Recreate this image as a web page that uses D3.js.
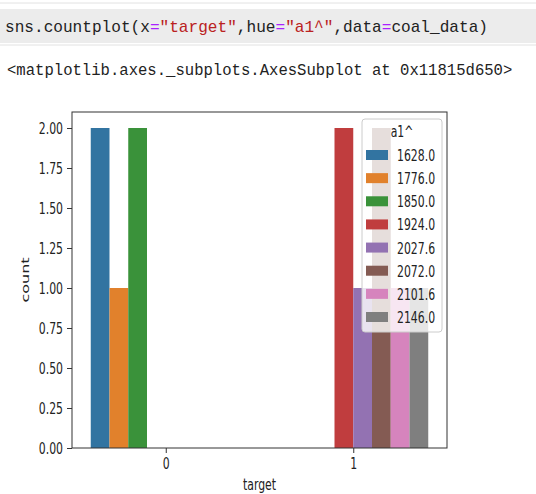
<!DOCTYPE html>
<html><head><meta charset="utf-8">
<script src="https://cdn.jsdelivr.net/npm/d3@7"></script>
<style>body{margin:0;background:#fff}svg{display:block}</style>
</head><body>
<svg id="c" width="536" height="494"></svg>
<script>
const categories = ["0", "1"];
const hues = ["1628.0","1776.0","1850.0","1924.0","2027.6","2072.0","2101.6","2146.0"];
const counts0 = [2, 1, 2, 0, 0, 0, 0, 0];
const counts1 = [0, 0, 0, 2, 1, 2, 1, 1];
const yTicks = [0, 0.25, 0.5, 0.75, 1.0, 1.25, 1.5, 1.75, 2.0];
const colors = ["#3274a1","#e1812c","#3a923a","#c03d3e","#9372b2","#845b53","#d684bd","#7f7f7f"];

const SX = 0.68;
const svg = d3.select("#c");
const FONT = "DejaVu Sans";
const MONO = "Liberation Mono";

// code cell
svg.append("rect").attr("x",0).attr("y",9).attr("width",536).attr("height",34).attr("fill","#ececec");
svg.append("line").attr("x1",0).attr("x2",536).attr("y1",3).attr("y2",3).attr("stroke","#e2e2e2");
svg.append("line").attr("x1",0).attr("x2",536).attr("y1",45).attr("y2",45).attr("stroke","#e2e2e2");
const code = svg.append("text").attr("x",5).attr("y",32).attr("font-family",MONO)
  .attr("font-size",16.1).attr("fill","#222");
const parts = [["sns.countplot(x","#222"],["=","#aa22ff"],["\"target\"","#ba2121"],[",hue","#222"],["=","#aa22ff"],
  ["\"a1^\"","#ba2121"],[",data","#222"],["=","#aa22ff"],["coal_data)","#222"]];
parts.forEach(p => code.append("tspan").attr("fill",p[1]).text(p[0]));
svg.append("text").attr("x",7).attr("y",75).attr("font-family",MONO).attr("font-size",15.6).attr("fill","#222")
  .text("<matplotlib.axes._subplots.AxesSubplot at 0x11815d650>");

// chart
const L = 72, R = 447, T = 112, B = 448;
const x = d3.scaleLinear().domain([-0.5, 1.5]).range([L, R]);
const y = d3.scaleLinear().domain([0, 2.1]).range([B, T]);
const bw = 0.8 / hues.length;

const data = [];
[counts0, counts1].forEach((arr, ci) => arr.forEach((v, hi) => data.push({ci, hi, v})));
svg.append("g").selectAll("rect").data(data).join("rect")
  .attr("x", d => x(d.ci - 0.4 + d.hi * bw))
  .attr("width", d => x(bw) - x(0))
  .attr("y", d => y(d.v))
  .attr("height", d => y(0) - y(d.v))
  .attr("fill", d => colors[d.hi]);

// axes
const yAxis = svg.append("g").attr("transform",`translate(${L},0)`)
  .call(d3.axisLeft(y).tickValues(yTicks).tickFormat(d3.format(".2f")).tickSize(5).tickPadding(4));
const xAxis = svg.append("g").attr("transform",`translate(0,${B})`)
  .call(d3.axisBottom(x).tickValues([0,1]).tickFormat((d,i)=>categories[i]).tickSize(5).tickPadding(5));
[yAxis, xAxis].forEach(g => {
  g.select(".domain").remove();
  g.selectAll(".tick line").attr("stroke","#333");
  g.selectAll(".tick text").attr("font-family",FONT).attr("font-size",16).attr("fill","#222");
});
yAxis.selectAll(".tick text").attr("transform",`scale(${SX},1)`).attr("x",-9/SX);
xAxis.selectAll(".tick text").attr("transform",`scale(${SX},1)`);

svg.append("rect").attr("x",L).attr("y",T).attr("width",R-L).attr("height",B-T)
  .attr("fill","none").attr("stroke","#333").attr("stroke-width",1);

// axis labels
svg.append("text").attr("transform",`translate(259.5,490) scale(${SX},1)`).attr("text-anchor","middle")
  .attr("font-family",FONT).attr("font-size",16).attr("fill","#222").text("target");
svg.append("text").attr("transform",`translate(29,280) scale(${SX},1) rotate(-90)`).attr("text-anchor","middle")
  .attr("font-family",FONT).attr("font-size",16).attr("fill","#222").text("count");

// legend
const lg = svg.append("g");
lg.append("rect").attr("x",362).attr("y",119).attr("width",80).attr("height",213).attr("rx",3)
  .attr("fill","#fff").attr("fill-opacity",0.8).attr("stroke","#ccc").attr("stroke-width",1);
lg.append("text").attr("transform",`translate(402,137) scale(${SX},1)`).attr("text-anchor","middle")
  .attr("font-family",FONT).attr("font-size",16).attr("fill","#222").text("a1^");
const rowY = d3.scaleLinear().domain([0, hues.length - 1]).range([155, 317]);
hues.forEach((h, i) => {
  lg.append("rect").attr("x",366).attr("y",rowY(i)-5).attr("width",22).attr("height",10).attr("fill",colors[i]);
  lg.append("text").attr("transform",`translate(397,${rowY(i)+6}) scale(${SX},1)`)
    .attr("font-family",FONT).attr("font-size",16).attr("fill","#222").text(h);
});
</script>
</body></html>
